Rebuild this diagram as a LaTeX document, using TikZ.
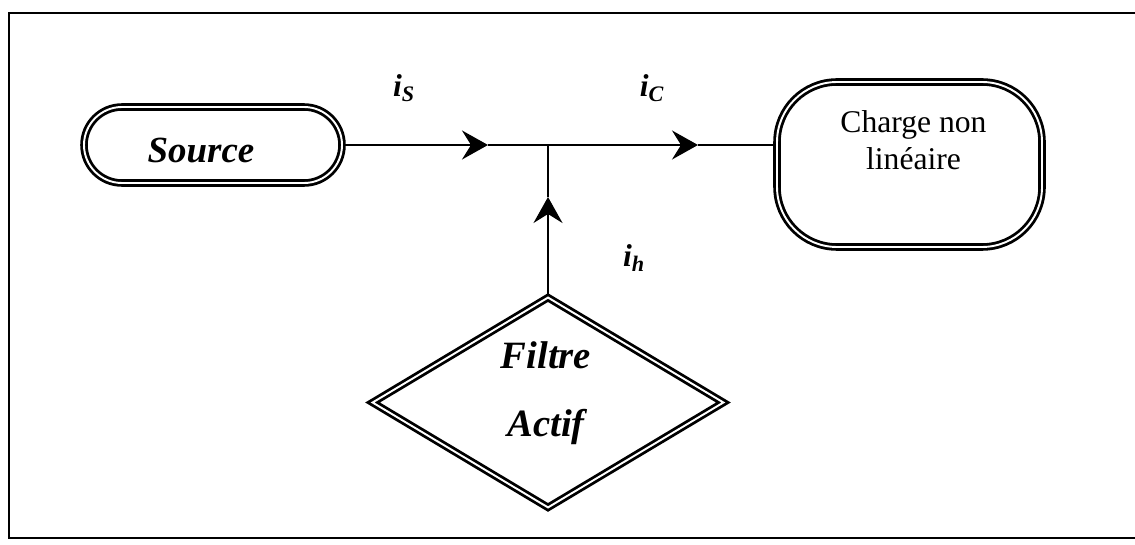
\documentclass[tikz,border=0pt]{standalone}
\usepackage{fontspec}
\setmainfont{Liberation Serif}
\usetikzlibrary{arrows.meta,shapes.geometric}

\tikzset{
  bloc/.style={draw,double=white,double distance=1.1pt,line width=1.6pt,inner sep=0},
  ligne/.style={line width=1pt},
  fleche/.style={line width=1pt,-{Stealth[length=5.2mm,width=5.8mm,inset=1.8mm]}},
  courant/.style={font=\bfseries\itshape\fontsize{18}{20}\selectfont}
}

\begin{document}
\begin{tikzpicture}[x=1cm,y=1cm]
      \path[use as bounding box] (0,0) rectangle (22.7,10.88);
      \draw[line width=1.1pt] (23.5,.12) -- (.18,.12) -- (.18,10.62) -- (23.5,10.62);
      % blocs
      \node[bloc,rounded corners=.76cm,minimum width=5.16cm,minimum height=1.52cm]
        (source) at (4.26,7.98) {};
      \node[font=\bfseries\itshape\fontsize{21}{25}\selectfont]
        (sourcetexte) at (4.02,7.86) {Source};
      \node[bloc,rounded corners=1.2cm,minimum width=5.3cm,minimum height=3.3cm]
        (charge) at (18.19,7.59) {};
      \node[align=center,font=\fontsize{18}{21}\selectfont]
        (chargetexte) at (18.27,8.07) {Charge non\\linéaire};
      \node[bloc,diamond,minimum width=7.04cm,minimum height=4.22cm]
        (filtre) at (10.96,2.83) {};
      \node[align=center,font=\bfseries\itshape\fontsize{22}{39}\selectfont]
        (filtretexte) at (10.92,3.02) {Filtre\\Actif};
      % connexions
      \coordinate (jonction) at (10.96,7.98);
      \coordinate (pointeS) at (9.76,7.98);
      \coordinate (pointeC) at (13.96,7.98);
      \coordinate (pointeH) at (10.96,6.94);
      \draw[fleche] (source.east) -- (pointeS);
      \draw[ligne] (pointeS) -- (jonction);
      \draw[fleche] (jonction) -- (pointeC);
      \draw[ligne] (pointeC) -- (jonction -| charge.west);
      \draw[fleche] (filtre.north) -- (pointeH);
      \draw[ligne] (pointeH) -- (jonction);
      % courants
      \node[courant] (is) at (8.08,9.12) {i\textsubscript{S}};
      \node[courant] (ic) at (13.04,9.12) {i\textsubscript{C}};
      \node[courant] (ih) at (12.68,5.72) {i\textsubscript{h}};
    \end{tikzpicture}
\end{document}
